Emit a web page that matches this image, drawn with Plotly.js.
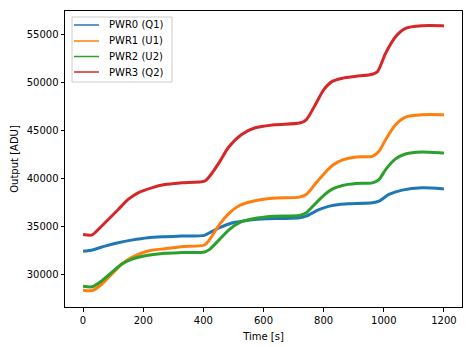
<!DOCTYPE html>
<html><head><meta charset="utf-8">
<script src="https://cdn.plot.ly/plotly-3.0.1.min.js"></script>
<style>html,body{margin:0;padding:0;background:#fff}#c{width:473px;height:347px}</style>
</head><body><div id="c"></div>
<script>
var names = ["PWR0 (Q1)", "PWR1 (U1)", "PWR2 (U2)", "PWR3 (Q2)"];
var colors = ["#1f77b4", "#ff7f0e", "#2ca02c", "#d62728"];

var t0 = [0, 27, 73, 117, 161, 216, 272, 327, 404, 421, 454, 498, 554, 609, 664, 720, 742, 786, 819, 852, 885, 962, 984, 1017, 1061, 1127, 1194, 1200];
var v0 = [32400, 32500, 32940, 33290, 33560, 33810, 33910, 33980, 34050, 34330, 34850, 35370, 35640, 35780, 35810, 35880, 36050, 36750, 37100, 37270, 37340, 37450, 37610, 38310, 38760, 39000, 38900, 38880];

var t1 = [0, 30, 62, 95, 128, 161, 216, 272, 327, 404, 421, 454, 487, 520, 565, 631, 720, 742, 775, 805, 830, 863, 908, 962, 984, 1006, 1039, 1072, 1127, 1194, 1200];
var v1 = [28350, 28300, 28970, 30010, 31050, 31740, 32430, 32670, 32880, 33050, 33640, 35200, 36400, 37160, 37610, 37920, 38030, 38300, 39520, 40600, 41350, 41900, 42210, 42280, 42800, 44010, 45560, 46360, 46600, 46600, 46580];

var t2 = [0, 30, 62, 95, 128, 161, 216, 272, 327, 404, 421, 454, 487, 520, 565, 631, 720, 742, 775, 805, 830, 863, 908, 962, 984, 1006, 1039, 1072, 1127, 1194, 1200];
var v2 = [28760, 28700, 29320, 30190, 31050, 31560, 31980, 32190, 32260, 32320, 32600, 33640, 34670, 35370, 35780, 36050, 36130, 36410, 37440, 38350, 38900, 39250, 39450, 39520, 39860, 40900, 42010, 42520, 42730, 42630, 42620];

var t3 = [0, 30, 51, 84, 117, 150, 183, 228, 272, 327, 404, 421, 454, 482, 526, 570, 637, 720, 742, 775, 800, 830, 863, 908, 962, 979, 1006, 1039, 1072, 1127, 1194, 1200];
var v3 = [34150, 34100, 34675, 35710, 36750, 37790, 38480, 39000, 39340, 39520, 39690, 40210, 41700, 43150, 44530, 45220, 45560, 45740, 46080, 47810, 49200, 50100, 50410, 50600, 50820, 51090, 53000, 54720, 55590, 55860, 55860, 55850];

var ts = [t0, t1, t2, t3], vs = [v0, v1, v2, v3];
var traces = [];
for (var i = 0; i < 4; i++) {
  traces.push({x: ts[i], y: vs[i], name: names[i], type: "scatter", mode: "lines", showlegend: false,
    line: {color: colors[i], width: 3, shape: "spline", smoothing: 0.7}});
}

// legend built with shapes + annotations (paper coordinates)
var W = 473, H = 347, ml = 65, mr = 11, mt = 11, mb = 40;
var pw = W - ml - mr, ph = H - mt - mb;
function px(x) { return (x - ml) / pw; }
function py(y) { return 1 - (y - mt) / ph; }
var shapes = [{type: "rect", xref: "paper", yref: "paper", x0: px(72), x1: px(172), y0: py(82), y1: py(17),
  line: {color: "#cccccc", width: 1}, fillcolor: "rgba(255,255,255,0.8)", layer: "above"}];
var annotations = [];
var rowY = [25, 41, 56.5, 72];
for (var j = 0; j < 4; j++) {
  shapes.push({type: "line", xref: "paper", yref: "paper", x0: px(74), x1: px(99), y0: py(rowY[j]), y1: py(rowY[j]),
    line: {color: colors[j], width: 1.5}, layer: "above"});
  annotations.push({xref: "paper", yref: "paper", x: px(107), y: py(rowY[j]), xanchor: "left", yanchor: "middle",
    text: names[j], showarrow: false, font: {family: "DejaVu Sans", size: 10, color: "#000"}});
}

var axisBase = {showgrid: false, zeroline: false, showline: true, mirror: true, linecolor: "#000", linewidth: 1,
  ticks: "outside", ticklen: 3.5, tickwidth: 1, tickcolor: "#000",
  tickfont: {family: "DejaVu Sans", size: 10, color: "#000"}};
var layout = {
  width: W, height: H,
  margin: {l: ml, r: mr, t: mt, b: mb, pad: 0},
  paper_bgcolor: "#fff", plot_bgcolor: "#fff",
  font: {family: "DejaVu Sans", size: 10, color: "#000"},
  xaxis: Object.assign({}, axisBase, {range: [-60, 1260], tickvals: [0, 200, 400, 600, 800, 1000, 1200],
    title: {text: "Time [s]", font: {family: "DejaVu Sans", size: 10}, standoff: 8}}),
  yaxis: Object.assign({}, axisBase, {range: [26600, 57400], tickvals: [30000, 35000, 40000, 45000, 50000, 55000],
    tickformat: "d", title: {text: "Output [ADU]", font: {family: "DejaVu Sans", size: 10}, standoff: 6}}),
  showlegend: false,
  shapes: shapes,
  annotations: annotations
};
Plotly.newPlot("c", traces, layout, {staticPlot: true, displayModeBar: false});
</script></body></html>
